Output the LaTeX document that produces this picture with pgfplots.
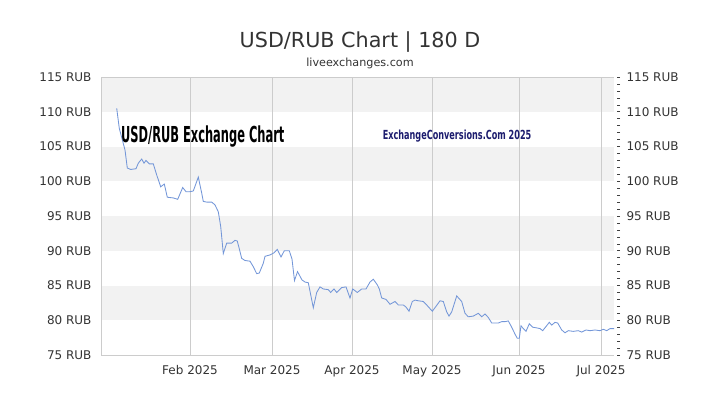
\documentclass[border=0pt]{standalone}
\usepackage{pgfplots}
\pgfplotsset{compat=1.18}
\usepackage{fontspec}
\setmainfont{DejaVu Sans}
\definecolor{txt}{HTML}{333333}
\definecolor{gridc}{HTML}{CCCCCC}
\definecolor{band}{HTML}{F2F2F2}
\definecolor{linec}{HTML}{7396D8}
\definecolor{navy}{HTML}{1C1C6E}
\begin{document}
\begin{tikzpicture}[x=1pt,y=1pt]
\path (0,0) rectangle (720,405);
\coordinate (o1) at (101,50);
\coordinate (o2) at (104,50);
\node[text=txt, font=\fontsize{20.7}{24}\selectfont, anchor=base, inner sep=0] at (360,357) {USD/RUB Chart | 180 D};
\node[text=txt, font=\fontsize{11.2}{13}\selectfont, anchor=base, inner sep=0] at (360,338) {liveexchanges.com};

\begin{axis}[at={(o1)}, anchor=south west, scale only axis,
  width=513pt, height=278pt,
  xmin=101, xmax=614, ymin=75, ymax=115,
  set layers,
  axis line style={draw=none},
  /pgf/number format/assume math mode=true,
  xtick={190,272,352,432,519,601},
  xticklabels={Feb 2025, Mar 2025, Apr 2025, May 2025, Jun 2025, Jul 2025},
  xmajorgrids, major grid style={gridc, line width=0.8pt},
  ytick={75,80,...,115},
  yticklabel={\pgfmathprintnumber{\tick} RUB},
  major tick length=0pt,
  tick style={draw=none},
  tick label style={font=\fontsize{12}{14}\selectfont, text=txt},
  xticklabel style={yshift=-7pt},
  yticklabel style={xshift=-6pt},
  clip=false,
]
\begin{pgfonlayer}{axis background}
\fill[band] (rel axis cs:0,0.125) rectangle (rel axis cs:1,0.25);
\fill[band] (rel axis cs:0,0.375) rectangle (rel axis cs:1,0.5);
\fill[band] (rel axis cs:0,0.625) rectangle (rel axis cs:1,0.75);
\fill[band] (rel axis cs:0,0.875) rectangle (rel axis cs:1,1);
\end{pgfonlayer}
\draw[gridc, line width=0.8pt] (rel axis cs:0,1) -- (rel axis cs:0,0) -- (rel axis cs:1,0);
\draw[gridc, line width=0.8pt] (rel axis cs:0,1) -- (rel axis cs:1,1);
\addplot[linec, line width=0.85pt] coordinates {
(116.7,110.5) (119.3,107.6) (125,104.5) (127.3,101.9) (130.7,101.7) (136,101.8)
(138.3,102.6) (141.7,103.2) (144,102.6) (146,103.0) (149.3,102.5) (153.3,102.5)
(156.7,100.9) (160.7,99.2) (164.3,99.6) (167.3,97.7) (173.3,97.6) (177.7,97.4)
(182.7,99.1) (186,98.5) (190,98.5) (193.3,98.6) (198.3,100.6) (201.7,98.3)
(203.3,97.1) (206.7,97.0) (211.7,97.0) (215,96.6) (218.3,95.6) (220.7,93.5)
(223.3,89.6) (226.7,91.1) (231.7,91.1) (235,91.5) (237.3,91.4) (241.7,88.9)
(245,88.6) (250,88.5) (253.3,87.7) (256.7,86.7) (259.3,86.8) (263.3,88.2)
(265,89.2) (270,89.4) (274,89.7) (277.3,90.2) (281,89.1) (284.3,90.0)
(289.3,90.0) (292,88.8) (294.5,85.7) (297.5,87.0) (302,85.8) (305,85.5)
(308.3,85.4) (313.3,81.8) (316.7,84.0) (320,84.8) (323.3,84.5) (328.3,84.4)
(330.7,84.0) (334,84.5) (336.7,84.0) (341.7,84.7) (346,84.8) (350,83.2)
(352.7,84.5) (357.3,84.0) (361.7,84.5) (366,84.5) (370,85.5) (373.3,85.9)
(377.3,85.1) (379.3,84.5) (381.7,83.2) (386,83.0) (390,82.3) (395,82.7)
(398.3,82.2) (403.3,82.2) (406,81.9) (409,81.3) (412.3,82.7) (415,82.9)
(418.3,82.8) (423.3,82.7) (427.3,82.1) (432.3,81.3) (436,82.0) (440,82.8)
(443.3,82.7) (446.7,81.2) (449,80.6) (451.7,81.2) (456.7,83.5) (461.7,82.7)
(465,81.0) (468.3,80.5) (473.3,80.6) (478.3,81.0) (481.7,80.5) (485,80.9)
(488.3,80.4) (491.7,79.6) (495,79.6) (498.3,79.6) (501.7,79.8) (505,79.8)
(508.3,79.9) (511.7,79.0) (515,78.0) (517.3,77.4) (519.3,77.4) (521,79.2)
(523.3,78.8) (526,78.4) (529.3,79.5) (532.7,79.0) (536.7,78.9) (540,78.8)
(542.7,78.5) (546,79.1) (549.3,79.7) (551.7,79.3) (555,79.7) (557.7,79.6)
(561.7,78.6) (565,78.2) (568.3,78.5) (573.3,78.4) (578.3,78.5) (581.7,78.3)
(586,78.6) (590,78.5) (595,78.6) (600,78.5) (603.3,78.7) (606.7,78.5)
(610,78.8) (614,78.8)
};
\end{axis}

\begin{axis}[at={(o2)}, anchor=south west, scale only axis,
  width=513pt, height=278pt,
  xmin=101, xmax=614, ymin=75, ymax=115,
  axis y line*=right, hide x axis,
  axis line style={draw=none},
  /pgf/number format/assume math mode=true,
  ytick={75,80,...,115},
  minor y tick num=4,
  yticklabel={\pgfmathprintnumber{\tick} RUB},
  tick align=outside,
  major tick length=3pt, minor tick length=3pt,
  tick style={black!75, line width=0.6pt},
  tick label style={font=\fontsize{12}{14}\selectfont, text=txt},
  yticklabel style={xshift=3pt},
]
\addplot[draw=none, mark=none] coordinates {(101,75) (614,115)};
\end{axis}

\node[font=\fontsize{22}{24}\selectfont\bfseries, text=black, anchor=base west, inner sep=0, xscale=0.52] at (121,262.3) {USD/RUB Exchange Chart};
\node[font=\fontsize{12.5}{14}\selectfont\bfseries, text=navy, anchor=base west, inner sep=0, xscale=0.65] at (382.7,265.5) {ExchangeConversions.Com 2025};
\end{tikzpicture}
\end{document}
